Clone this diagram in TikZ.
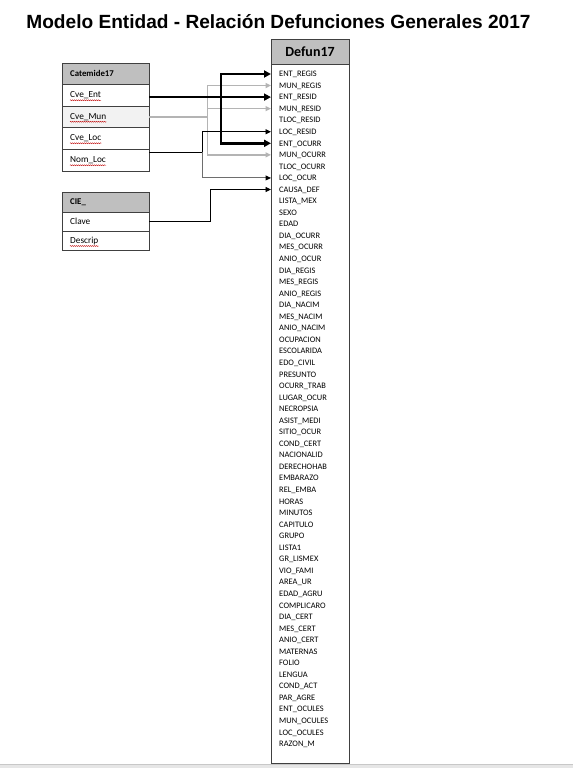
\documentclass[tikz,border=0pt]{standalone}
\usepackage{fontspec}
\setmainfont{Carlito}
\newfontfamily\titlefont{Liberation Sans}
\usetikzlibrary{arrows.meta,decorations.pathmorphing}
\definecolor{hdr}{HTML}{BFBFBF}
\definecolor{bord}{HTML}{404040}
\definecolor{lgray}{HTML}{B4B4B4}
\definecolor{mgray}{HTML}{6E6E6E}
\definecolor{rowfill}{HTML}{F2F2F2}
\definecolor{stripc}{HTML}{E6E6E6}
\definecolor{stripl}{HTML}{C8C8C8}
\begin{document}
\begin{tikzpicture}[x=1pt,y=-1pt,
  tblbox/.style={draw=bord, line width=0.9pt, anchor=north west, minimum width=87pt, inner sep=0pt, outer sep=0pt},
  tblhead/.style={tblbox, fill=hdr},
  celltext/.style={anchor=west, inner sep=0pt, font=\fontsize{9.3}{10}\selectfont, text height=6pt, text depth=0.5pt},
  headtext/.style={celltext, font=\bfseries\fontsize{8.8}{10}\selectfont},
  field/.style={anchor=west, inner sep=0pt, font=\fontsize{8.4}{9}\selectfont, text height=5.4pt, text depth=0pt},
  squig/.style={draw=red!75!black, line width=0.45pt, decorate, decoration={snake, amplitude=0.5pt, segment length=2pt}},
  thickarrow/.style={draw=black, line width=2.4pt, -{Triangle[length=7pt,width=7pt]}},
  grayline/.style={draw=lgray, line width=1.5pt},
  grayarrow/.style={grayline, -{Triangle[length=5.5pt,width=5pt]}},
  thinline/.style={draw=black, line width=0.9pt},
  thinarrow/.style={thinline, -{Triangle[length=5.5pt,width=5pt]}},
  midarrow/.style={draw=mgray, line width=1pt, -{Triangle[length=5.5pt,width=5pt,color=black]}}
]
\useasboundingbox (0,0) rectangle (573,768);
\fill[white] (0,0) rectangle (573,768);
% bottom strip
\fill[stripc] (0,764) rectangle (573,768);
\draw[stripl, line width=0.6pt] (0,764) -- (573,764);

% title
\node[anchor=base, inner sep=0pt, font=\titlefont\bfseries\fontsize{19.1}{22}\selectfont] (title) at (278.5,29) {Modelo Entidad - Relación Defunciones Generales 2017};

% Catemide17 table
\node[tblhead, minimum height=21pt] (chead) at (62,63) {};
\node[tblbox, minimum height=22pt] (cent) at (62,84) {};
\node[tblbox, minimum height=21pt, fill=rowfill] (cmun) at (62,106) {};
\node[tblbox, minimum height=22pt] (cloc) at (62,127) {};
\node[tblbox, minimum height=22pt] (cnom) at (62,149) {};
\node[headtext] (lchead) at ([xshift=8pt]chead.west) {Catemide17};
\node[celltext] (lent) at ([xshift=8pt]cent.west) {Cve\_Ent};
\node[celltext] (lmun) at ([xshift=8pt]cmun.west) {Cve\_Mun};
\node[celltext] (lloc) at ([xshift=8pt]cloc.west) {Cve\_Loc};
\node[celltext] (lnom) at ([xshift=8pt]cnom.west) {Nom\_Loc};
\foreach \n in {lent,lmun,lloc,lnom}
  \draw[squig] ([yshift=-1.8pt]\n.south west) -- ([yshift=-1.8pt]\n.south east);

% CIE_ table
\node[tblhead, minimum height=20pt] (ihead) at (62,192) {};
\node[tblbox, minimum height=19.5pt] (clave) at (62,212) {};
\node[tblbox, minimum height=18.5pt] (desc) at (62,231.5) {};
\node[headtext] (lihead) at ([xshift=8pt]ihead.west) {CIE\_};
\node[celltext] (lclave) at ([xshift=8pt]clave.west) {Clave};
\node[celltext] (ldesc) at ([xshift=8pt]desc.west) {Descrip};
\draw[squig] ([yshift=-1.8pt]ldesc.south west) -- ([yshift=-1.8pt]ldesc.south east);

% Defun17 table
\node[tblhead, minimum width=78pt, minimum height=25pt, font=\bfseries\fontsize{14}{15}\selectfont] (dhead) at (271,39) {Defun17};
\node[tblbox, minimum width=78pt, minimum height=699pt] (defb) at (271,64) {};
\foreach \t [count=\i] in {ENT\_REGIS, MUN\_REGIS, ENT\_RESID, MUN\_RESID, TLOC\_RESID, LOC\_RESID, ENT\_OCURR, MUN\_OCURR, TLOC\_OCURR, LOC\_OCUR, CAUSA\_DEF, LISTA\_MEX, SEXO, EDAD, DIA\_OCURR, MES\_OCURR, ANIO\_OCUR, DIA\_REGIS, MES\_REGIS, ANIO\_REGIS, DIA\_NACIM, MES\_NACIM, ANIO\_NACIM, OCUPACION, ESCOLARIDA, EDO\_CIVIL, PRESUNTO, OCURR\_TRAB, LUGAR\_OCUR, NECROPSIA, ASIST\_MEDI, SITIO\_OCUR, COND\_CERT, NACIONALID, DERECHOHAB, EMBARAZO, REL\_EMBA, HORAS, MINUTOS, CAPITULO, GRUPO, LISTA1, GR\_LISMEX, VIO\_FAMI, AREA\_UR, EDAD\_AGRU, COMPLICARO, DIA\_CERT, MES\_CERT, ANIO\_CERT, MATERNAS, FOLIO, LENGUA, COND\_ACT, PAR\_AGRE, ENT\_OCULES, MUN\_OCULES, LOC\_OCULES, RAZON\_M}
  \node[field] (d\i) at (279,{74+11.55*(\i-1)}) {\t};

% junction coordinates
\coordinate (jM) at (207.5,117);
\coordinate (jL) at (202,152);
\coordinate (jE) at (221,97.2);
\coordinate (jC) at (210,221.75);

% gray connectors (Cve_Mun)
\draw[grayline] (cmun.east |- jM) -- (jM);
\draw[grayarrow] (jM) |- (defb.west |- d2);
\draw[grayarrow] (jM) |- (defb.west |- d4);
\draw[grayarrow] (jM) |- (defb.west |- d8);

% thin connectors (Nom_Loc)
\draw[thinline] (cnom.east |- jL) -- (jL);
\draw[thinarrow] (jL) |- (defb.west |- d6);
\draw[midarrow] (jL) |- (defb.west |- d10);

% Clave connector
\draw[thinarrow] (clave.east) -- (jC) |- (defb.west |- d11);

% thick connectors (Cve_Ent)
\draw[thickarrow] (cent.east |- d3) -- (defb.west |- d3);
\draw[thickarrow] (jE) |- (defb.west |- d1);
\draw[thickarrow] (jE) |- (defb.west |- d7);
\end{tikzpicture}
\end{document}
